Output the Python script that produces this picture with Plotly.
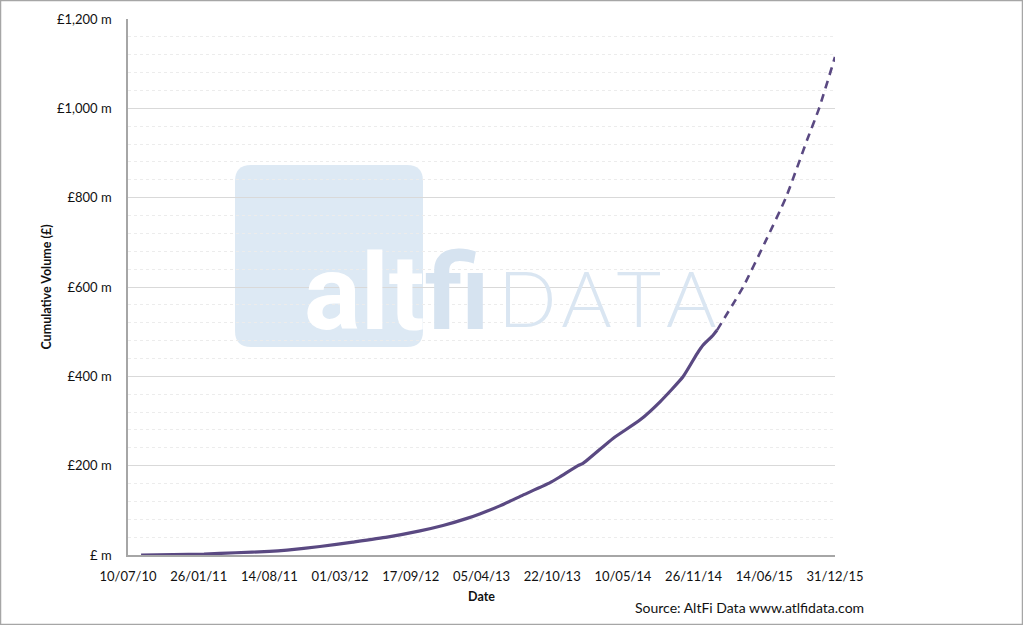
import plotly.graph_objects as go

# cumulative lending volume, £ m
actual_dates = ["2010-08-16", "2010-11-15", "2011-02-10", "2011-05-10", "2011-08-14",
                "2011-10-03", "2012-01-04", "2012-04-06", "2012-07-12", "2012-10-13",
                "2012-12-17", "2013-02-23", "2013-03-31", "2013-05-27", "2013-07-31",
                "2013-10-16", "2013-11-13", "2014-01-03", "2014-01-17", "2014-04-12",
                "2014-06-27", "2014-08-23", "2014-10-27", "2014-12-06", "2014-12-23",
                "2015-01-20", "2015-01-31"]
actual_volume = [0, 1, 2, 5, 8, 11, 19, 29, 40, 54, 66, 82, 92, 110, 134,
                 162, 175, 200, 205, 261, 302, 343, 399, 451, 470, 492, 503]

projected_dates = ["2015-01-31", "2015-04-15", "2015-06-16", "2015-08-14",
                   "2015-10-13", "2015-11-16", "2015-12-31"]
projected_volume = [503, 600, 700, 800, 929, 1000, 1115]

y_tick_vals = [0, 200, 400, 600, 800, 1000, 1200]
y_tick_text = ["£ m", "£200 m", "£400 m", "£600 m", "£800 m", "£1,000 m", "£1,200 m"]

LINE = "#5a4982"
FONT = "Lato"

fig = go.Figure()

fig.add_trace(go.Scatter(
    x=actual_dates, y=actual_volume, mode="lines",
    line=dict(color=LINE, width=3.2, shape="spline", smoothing=0.5),
    showlegend=False, hoverinfo="x+y"
))
fig.add_trace(go.Scatter(
    x=projected_dates, y=projected_volume, mode="lines",
    line=dict(color=LINE, width=2.6, dash="8px,6px", shape="spline", smoothing=0.5),
    showlegend=False, hoverinfo="x+y"
))

# plot area is 707 x 536 px
W, H = 707.0, 536.0


def px_x(p):
    return (p - 128) / W


def px_y(p):
    return (555 - p) / H


def rounded_rect(x0, y0, x1, y1, r):
    # pixel coords in, paper coords out
    rx, ry = r / W, r / H
    a, b, c, d = px_x(x0), px_y(y1), px_x(x1), px_y(y0)
    return (f"M {a+rx},{b} L {c-rx},{b} Q {c},{b} {c},{b+ry} L {c},{d-ry} "
            f"Q {c},{d} {c-rx},{d} L {a+rx},{d} Q {a},{d} {a},{d-ry} "
            f"L {a},{b+ry} Q {a},{b} {a+rx},{b} Z")


shapes = [
    # watermark box
    dict(type="path", xref="paper", yref="paper", layer="below",
         path=rounded_rect(235, 165, 423, 347, 16),
         fillcolor="rgba(208,224,240,0.72)", line=dict(width=0)),
    # outer frame
    dict(type="rect", xref="paper", yref="paper", layer="above",
         x0=px_x(0.5), x1=px_x(1022.5), y0=px_y(624.5), y1=px_y(0.5),
         line=dict(color="#a6a6a6", width=1.5)),
]

hair = "\u200a"
annotations = [
    dict(text="<span style='color:white'>alt</span><span style='color:#d6e3f0'>fi</span>",
         xref="paper", yref="paper", x=px_x(302), y=px_y(357), xanchor="left", yanchor="bottom",
         showarrow=False, font=dict(family="Roboto", size=106, weight=700)),
    dict(text=hair.join("DATA"), xref="paper", yref="paper", x=px_x(496), y=px_y(345),
         xanchor="left", yanchor="bottom", showarrow=False,
         font=dict(family=FONT, size=77, weight=300, color="#dae6f2")),
    dict(text="Source: AltFi Data www.atlfidata.com", xref="paper", yref="paper",
         x=px_x(749), y=px_y(607), xanchor="center", yanchor="middle", showarrow=False,
         font=dict(family=FONT, size=14, color="#111")),
]

fig.update_layout(
    width=1023, height=625,
    margin=dict(l=128, r=188, t=19, b=70),
    paper_bgcolor="white", plot_bgcolor="rgba(0,0,0,0)",
    font=dict(family=FONT, size=13, color="#111"),
    shapes=shapes, annotations=annotations,
    showlegend=False,
)

fig.update_xaxes(
    type="date", range=["2010-07-10", "2015-12-31"],
    tick0="2010-07-10", dtick=200 * 86400000, tickformat="%d/%m/%y",
    showgrid=False, showline=True, linecolor="#a6a6a6", linewidth=1.5,
    ticks="", ticklabelstandoff=9,
    title=dict(text="<b>Date</b>", font=dict(size=12.5), standoff=9),
)

fig.update_yaxes(
    range=[0, 1200], tickvals=y_tick_vals, ticktext=y_tick_text,
    showgrid=True, gridcolor="#d9d9d9", gridwidth=1,
    minor=dict(dtick=40, tick0=0, showgrid=True, gridcolor="#ececec", griddash="dot", gridwidth=1),
    showline=True, linecolor="#a6a6a6", linewidth=1.5, zeroline=False,
    ticks="", ticklabelstandoff=12,
    title=dict(text="<b>Cumulative Volume (£)</b>", font=dict(size=12.5), standoff=3),
)

fig.write_html("out.html", config={"displayModeBar": False},
               post_script="document.body.style.margin='0px';")
